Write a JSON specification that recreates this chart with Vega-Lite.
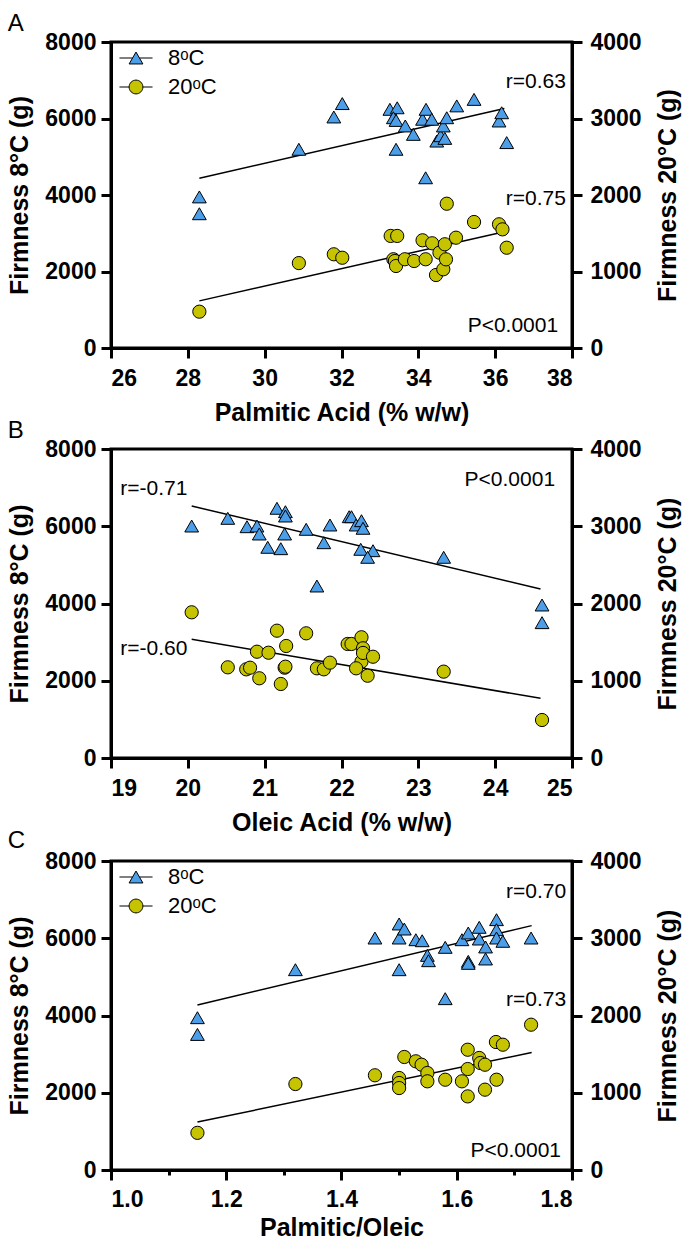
{
  "$schema": "https://vega.github.io/schema/vega-lite/v6.json",
  "background": "white",
  "padding": {"top": 10, "left": 6, "right": 0, "bottom": 0},
  "config": {
    "font": "Liberation Sans",
    "view": {"stroke": "black", "strokeWidth": 3},
    "axis": {
      "domainColor": "black", "domainWidth": 3, "tickColor": "black", "tickWidth": 3,
      "labelFont": "Liberation Sans", "labelFontWeight": "bold", "labelFontSize": 23, "labelColor": "black",
      "titleFont": "Liberation Sans", "titleFontSize": 25, "titleFontWeight": "bold", "titleColor": "black",
      "grid": false
    },
    "title": {"font": "Liberation Sans", "fontSize": 24, "fontWeight": "normal", "color": "black", "anchor": "start", "frame": "bounds"},
    "text": {"font": "Liberation Sans", "fontSize": 21, "color": "black"},
    "legend": {
      "orient": "none", "legendX": 14, "legendY": 5, "title": null, "padding": 0,
      "labelFont": "Liberation Sans", "labelFontSize": 22, "labelColor": "black",
      "symbolStrokeColor": "black", "symbolStrokeWidth": 1, "symbolSize": 190, "symbolOpacity": 1,
      "rowPadding": 7, "labelOffset": 21
    }
  },
  "datasets": {
    "pA": [
      {"x": 28.3, "firmness": 3950, "temp": "8ᵒC"}, {"x": 28.3, "firmness": 3510, "temp": "8ᵒC"},
      {"x": 30.89, "firmness": 5195, "temp": "8ᵒC"}, {"x": 31.8, "firmness": 6040, "temp": "8ᵒC"},
      {"x": 32.02, "firmness": 6390, "temp": "8ᵒC"}, {"x": 33.26, "firmness": 6240, "temp": "8ᵒC"},
      {"x": 33.45, "firmness": 6280, "temp": "8ᵒC"}, {"x": 33.35, "firmness": 6020, "temp": "8ᵒC"},
      {"x": 33.42, "firmness": 5950, "temp": "8ᵒC"}, {"x": 33.42, "firmness": 5195, "temp": "8ᵒC"},
      {"x": 33.66, "firmness": 5805, "temp": "8ᵒC"}, {"x": 33.87, "firmness": 5585, "temp": "8ᵒC"},
      {"x": 34.11, "firmness": 5980, "temp": "8ᵒC"}, {"x": 34.2, "firmness": 6240, "temp": "8ᵒC"},
      {"x": 34.19, "firmness": 4450, "temp": "8ᵒC"}, {"x": 34.35, "firmness": 5980, "temp": "8ᵒC"},
      {"x": 34.48, "firmness": 5410, "temp": "8ᵒC"}, {"x": 34.58, "firmness": 5550, "temp": "8ᵒC"},
      {"x": 34.65, "firmness": 5805, "temp": "8ᵒC"}, {"x": 34.69, "firmness": 5480, "temp": "8ᵒC"},
      {"x": 34.74, "firmness": 6020, "temp": "8ᵒC"}, {"x": 35.0, "firmness": 6330, "temp": "8ᵒC"},
      {"x": 35.45, "firmness": 6500, "temp": "8ᵒC"}, {"x": 36.1, "firmness": 5935, "temp": "8ᵒC"},
      {"x": 36.17, "firmness": 6150, "temp": "8ᵒC"}, {"x": 36.3, "firmness": 5370, "temp": "8ᵒC"},
      {"x": 28.3, "firmness": 475, "temp": "20ᵒC"}, {"x": 30.89, "firmness": 1110, "temp": "20ᵒC"},
      {"x": 31.8, "firmness": 1225, "temp": "20ᵒC"}, {"x": 32.02, "firmness": 1180, "temp": "20ᵒC"},
      {"x": 33.28, "firmness": 1465, "temp": "20ᵒC"}, {"x": 33.45, "firmness": 1465, "temp": "20ᵒC"},
      {"x": 33.35, "firmness": 1160, "temp": "20ᵒC"}, {"x": 33.39, "firmness": 1137, "temp": "20ᵒC"},
      {"x": 33.42, "firmness": 1072, "temp": "20ᵒC"}, {"x": 33.65, "firmness": 1160, "temp": "20ᵒC"},
      {"x": 33.89, "firmness": 1137, "temp": "20ᵒC"}, {"x": 34.11, "firmness": 1408, "temp": "20ᵒC"},
      {"x": 34.19, "firmness": 1160, "temp": "20ᵒC"}, {"x": 34.36, "firmness": 1369, "temp": "20ᵒC"},
      {"x": 34.46, "firmness": 954, "temp": "20ᵒC"}, {"x": 34.55, "firmness": 1246, "temp": "20ᵒC"},
      {"x": 34.65, "firmness": 1029, "temp": "20ᵒC"}, {"x": 34.69, "firmness": 1356, "temp": "20ᵒC"},
      {"x": 34.72, "firmness": 1159, "temp": "20ᵒC"}, {"x": 34.74, "firmness": 1886, "temp": "20ᵒC"},
      {"x": 34.98, "firmness": 1442, "temp": "20ᵒC"}, {"x": 35.45, "firmness": 1647, "temp": "20ᵒC"},
      {"x": 36.1, "firmness": 1617, "temp": "20ᵒC"}, {"x": 36.19, "firmness": 1551, "temp": "20ᵒC"},
      {"x": 36.3, "firmness": 1311, "temp": "20ᵒC"}
    ],
    "fA": [
      {"x": 28.3, "firmness": 4440, "temp": "8ᵒC"}, {"x": 36.24, "firmness": 6260, "temp": "8ᵒC"},
      {"x": 28.3, "firmness": 616, "temp": "20ᵒC"}, {"x": 36.24, "firmness": 1520, "temp": "20ᵒC"}
    ],
    "pB": [
      {"x": 20.05, "firmness": 6006, "temp": "8ᵒC"}, {"x": 20.52, "firmness": 6205, "temp": "8ᵒC"},
      {"x": 20.77, "firmness": 5988, "temp": "8ᵒC"}, {"x": 20.9, "firmness": 6006, "temp": "8ᵒC"},
      {"x": 20.93, "firmness": 5799, "temp": "8ᵒC"}, {"x": 21.04, "firmness": 5455, "temp": "8ᵒC"},
      {"x": 21.16, "firmness": 6465, "temp": "8ᵒC"}, {"x": 21.27, "firmness": 6377, "temp": "8ᵒC"},
      {"x": 21.27, "firmness": 6265, "temp": "8ᵒC"}, {"x": 21.26, "firmness": 5799, "temp": "8ᵒC"},
      {"x": 21.21, "firmness": 5419, "temp": "8ᵒC"}, {"x": 21.54, "firmness": 5921, "temp": "8ᵒC"},
      {"x": 21.85, "firmness": 6032, "temp": "8ᵒC"}, {"x": 21.77, "firmness": 5574, "temp": "8ᵒC"},
      {"x": 21.68, "firmness": 4453, "temp": "8ᵒC"}, {"x": 22.1, "firmness": 6247, "temp": "8ᵒC"},
      {"x": 22.13, "firmness": 6247, "temp": "8ᵒC"}, {"x": 22.19, "firmness": 6032, "temp": "8ᵒC"},
      {"x": 22.26, "firmness": 6144, "temp": "8ᵒC"}, {"x": 22.28, "firmness": 5947, "temp": "8ᵒC"},
      {"x": 22.25, "firmness": 5403, "temp": "8ᵒC"}, {"x": 22.41, "firmness": 5367, "temp": "8ᵒC"},
      {"x": 22.34, "firmness": 5196, "temp": "8ᵒC"}, {"x": 23.33, "firmness": 5196, "temp": "8ᵒC"},
      {"x": 24.61, "firmness": 3961, "temp": "8ᵒC"}, {"x": 24.61, "firmness": 3504, "temp": "8ᵒC"},
      {"x": 20.05, "firmness": 1886, "temp": "20ᵒC"}, {"x": 20.52, "firmness": 1174, "temp": "20ᵒC"},
      {"x": 20.76, "firmness": 1148, "temp": "20ᵒC"}, {"x": 20.81, "firmness": 1169, "temp": "20ᵒC"},
      {"x": 20.9, "firmness": 1376, "temp": "20ᵒC"}, {"x": 20.93, "firmness": 1032, "temp": "20ᵒC"},
      {"x": 21.05, "firmness": 1363, "temp": "20ᵒC"}, {"x": 21.16, "firmness": 1648, "temp": "20ᵒC"},
      {"x": 21.21, "firmness": 958, "temp": "20ᵒC"}, {"x": 21.26, "firmness": 1169, "temp": "20ᵒC"},
      {"x": 21.28, "firmness": 1450, "temp": "20ᵒC"}, {"x": 21.27, "firmness": 1182, "temp": "20ᵒC"},
      {"x": 21.54, "firmness": 1614, "temp": "20ᵒC"}, {"x": 21.68, "firmness": 1161, "temp": "20ᵒC"},
      {"x": 21.77, "firmness": 1148, "temp": "20ᵒC"}, {"x": 21.85, "firmness": 1234, "temp": "20ᵒC"},
      {"x": 22.08, "firmness": 1476, "temp": "20ᵒC"}, {"x": 22.13, "firmness": 1476, "temp": "20ᵒC"},
      {"x": 22.26, "firmness": 1563, "temp": "20ᵒC"}, {"x": 22.28, "firmness": 1420, "temp": "20ᵒC"},
      {"x": 22.26, "firmness": 1247, "temp": "20ᵒC"}, {"x": 22.28, "firmness": 1360, "temp": "20ᵒC"},
      {"x": 22.19, "firmness": 1161, "temp": "20ᵒC"}, {"x": 22.34, "firmness": 1065, "temp": "20ᵒC"},
      {"x": 22.41, "firmness": 1311, "temp": "20ᵒC"}, {"x": 23.33, "firmness": 1118, "temp": "20ᵒC"},
      {"x": 24.61, "firmness": 492, "temp": "20ᵒC"}
    ],
    "fB": [
      {"x": 20.05, "firmness": 6524, "temp": "8ᵒC"}, {"x": 24.59, "firmness": 4375, "temp": "8ᵒC"},
      {"x": 20.05, "firmness": 1537, "temp": "20ᵒC"}, {"x": 24.59, "firmness": 773, "temp": "20ᵒC"}
    ],
    "pC": [
      {"x": 1.15, "firmness": 3943, "temp": "8ᵒC"}, {"x": 1.15, "firmness": 3510, "temp": "8ᵒC"},
      {"x": 1.32, "firmness": 5186, "temp": "8ᵒC"}, {"x": 1.458, "firmness": 6006, "temp": "8ᵒC"},
      {"x": 1.5, "firmness": 6369, "temp": "8ᵒC"}, {"x": 1.5, "firmness": 6006, "temp": "8ᵒC"},
      {"x": 1.5, "firmness": 5186, "temp": "8ᵒC"}, {"x": 1.509, "firmness": 6239, "temp": "8ᵒC"},
      {"x": 1.529, "firmness": 5962, "temp": "8ᵒC"}, {"x": 1.54, "firmness": 5936, "temp": "8ᵒC"},
      {"x": 1.549, "firmness": 5557, "temp": "8ᵒC"}, {"x": 1.551, "firmness": 5419, "temp": "8ᵒC"},
      {"x": 1.58, "firmness": 5765, "temp": "8ᵒC"}, {"x": 1.58, "firmness": 4436, "temp": "8ᵒC"},
      {"x": 1.609, "firmness": 5962, "temp": "8ᵒC"}, {"x": 1.62, "firmness": 6136, "temp": "8ᵒC"},
      {"x": 1.62, "firmness": 5402, "temp": "8ᵒC"}, {"x": 1.62, "firmness": 5350, "temp": "8ᵒC"},
      {"x": 1.639, "firmness": 6283, "temp": "8ᵒC"}, {"x": 1.639, "firmness": 5980, "temp": "8ᵒC"},
      {"x": 1.65, "firmness": 5774, "temp": "8ᵒC"}, {"x": 1.65, "firmness": 5463, "temp": "8ᵒC"},
      {"x": 1.669, "firmness": 6481, "temp": "8ᵒC"}, {"x": 1.669, "firmness": 6222, "temp": "8ᵒC"},
      {"x": 1.669, "firmness": 6006, "temp": "8ᵒC"}, {"x": 1.68, "firmness": 5921, "temp": "8ᵒC"},
      {"x": 1.729, "firmness": 6006, "temp": "8ᵒC"},
      {"x": 1.15, "firmness": 481, "temp": "20ᵒC"}, {"x": 1.32, "firmness": 1113, "temp": "20ᵒC"},
      {"x": 1.458, "firmness": 1226, "temp": "20ᵒC"}, {"x": 1.5, "firmness": 1191, "temp": "20ᵒC"},
      {"x": 1.5, "firmness": 1126, "temp": "20ᵒC"}, {"x": 1.5, "firmness": 1061, "temp": "20ᵒC"},
      {"x": 1.509, "firmness": 1463, "temp": "20ᵒC"}, {"x": 1.529, "firmness": 1407, "temp": "20ᵒC"},
      {"x": 1.539, "firmness": 1363, "temp": "20ᵒC"}, {"x": 1.549, "firmness": 1256, "temp": "20ᵒC"},
      {"x": 1.549, "firmness": 1148, "temp": "20ᵒC"}, {"x": 1.58, "firmness": 1169, "temp": "20ᵒC"},
      {"x": 1.609, "firmness": 1148, "temp": "20ᵒC"}, {"x": 1.619, "firmness": 1557, "temp": "20ᵒC"},
      {"x": 1.619, "firmness": 1307, "temp": "20ᵒC"}, {"x": 1.619, "firmness": 953, "temp": "20ᵒC"},
      {"x": 1.639, "firmness": 1450, "temp": "20ᵒC"}, {"x": 1.641, "firmness": 1385, "temp": "20ᵒC"},
      {"x": 1.649, "firmness": 1363, "temp": "20ᵒC"}, {"x": 1.649, "firmness": 1040, "temp": "20ᵒC"},
      {"x": 1.668, "firmness": 1657, "temp": "20ᵒC"}, {"x": 1.669, "firmness": 1169, "temp": "20ᵒC"},
      {"x": 1.68, "firmness": 1622, "temp": "20ᵒC"}, {"x": 1.729, "firmness": 1881, "temp": "20ᵒC"}
    ],
    "fC": [
      {"x": 1.15, "firmness": 4273, "temp": "8ᵒC"}, {"x": 1.73, "firmness": 6327, "temp": "8ᵒC"},
      {"x": 1.15, "firmness": 620, "temp": "20ᵒC"}, {"x": 1.73, "firmness": 1520, "temp": "20ᵒC"}
    ]
  },
  "vconcat": [
    {
      "width": 461, "height": 306,
      "title": {"text": "A", "offset": -5},
      "layer": [
        {
          "layer": [
            {
              "data": {"name": "fA"}, "transform": [{"filter": "datum.temp == '8ᵒC'"}],
              "mark": {"type": "line", "color": "black", "strokeWidth": 1.5},
              "encoding": {
                "x": {"field": "x", "type": "quantitative", "scale": {"domain": [26, 38], "nice": false, "zero": false},
                  "axis": {"title": "Palmitic Acid (% w/w)", "format": "d", "values": [26,27,28,29,30,31,32,33,34,35,36,37,38],
                    "labelExpr": "datum.value % 2 == 0 ? datum.label : ''",
                    "tickSize": {"condition": {"test": "datum.value % 2 == 0", "value": 10}, "value": 5},
                    "labelPadding": 9, "titlePadding": 10}},
                "y": {"field": "firmness", "type": "quantitative", "scale": {"domain": [0, 8000], "nice": false},
                  "axis": {"title": "Firmness 8°C (g)", "orient": "left", "format": "d",
                    "values": [0,1000,2000,3000,4000,5000,6000,7000,8000],
                    "labelExpr": "datum.value % 2000 == 0 ? datum.label : ''",
                    "tickSize": {"condition": {"test": "datum.value % 2000 == 0", "value": 10}, "value": 5},
                    "labelPadding": 5, "titlePadding": 12}}
              }
            },
            {
              "data": {"name": "pA"}, "transform": [{"filter": "datum.temp == '8ᵒC'"}],
              "mark": {"type": "point", "filled": true, "shape": "triangle-up", "fill": "#4c9ee9", "stroke": "black", "strokeWidth": 1, "opacity": 1, "size": 190},
              "encoding": {"x": {"field": "x", "type": "quantitative"}, "y": {"field": "firmness", "type": "quantitative"}}
            },
            {
              "data": {"name": "pA"}, "transform": [{"filter": "false"}],
              "mark": {"type": "point", "filled": true, "stroke": "black", "strokeWidth": 1, "opacity": 1, "size": 190},
              "encoding": {
                "x": {"field": "x", "type": "quantitative"},
                "y": {"field": "firmness", "type": "quantitative"},
                "shape": {"field": "temp", "type": "nominal", "scale": {"domain": ["8ᵒC", "20ᵒC"], "range": ["M-2.4,0H-0.5M0.5,0H2.4M0,-0.866L1,0.866L-1,0.866Z", "M-2.4,0H-1M1,0H2.4M1,0A1,1,0,1,1,-1,0A1,1,0,1,1,1,0Z"]},
                  "legend": {"encode": {"symbols": {"update": {"stroke": {"value": "black"}, "strokeWidth": {"value": 1}}}}}},
                "fill": {"field": "temp", "type": "nominal", "scale": {"domain": ["8ᵒC", "20ᵒC"], "range": ["#4c9ee9", "#c6c300"]},
                  "legend": {"encode": {"symbols": {"update": {"stroke": {"value": "black"}, "strokeWidth": {"value": 1}}}}}}
              }
            },
            {"data": {"values": [{}]}, "mark": {"type": "text", "align": "right", "baseline": "middle"},
              "encoding": {"x": {"datum": 37.84}, "y": {"datum": 6954}, "text": {"value": "r=0.63"}}},
            {"data": {"values": [{}]}, "mark": {"type": "text", "align": "right", "baseline": "middle"},
              "encoding": {"x": {"datum": 37.84}, "y": {"datum": 3895}, "text": {"value": "r=0.75"}}},
            {"data": {"values": [{}]}, "mark": {"type": "text", "align": "right", "baseline": "middle"},
              "encoding": {"x": {"datum": 37.64}, "y": {"datum": 575}, "text": {"value": "P<0.0001"}}}
          ]
        },
        {
          "layer": [
            {
              "data": {"name": "fA"}, "transform": [{"filter": "datum.temp == '20ᵒC'"}],
              "mark": {"type": "line", "color": "black", "strokeWidth": 1.5},
              "encoding": {
                "x": {"field": "x", "type": "quantitative"},
                "y": {"field": "firmness", "type": "quantitative", "scale": {"domain": [0, 4000], "nice": false},
                  "axis": {"title": "Firmness 20°C (g)", "orient": "right", "format": "d",
                    "values": [0,500,1000,1500,2000,2500,3000,3500,4000],
                    "labelExpr": "datum.value % 1000 == 0 ? datum.label : ''",
                    "tickSize": {"condition": {"test": "datum.value % 1000 == 0", "value": 10}, "value": 5},
                    "labelPadding": 8, "titlePadding": 14, "titleAngle": 270, "titleBaseline": "top"}}
              }
            },
            {
              "data": {"name": "pA"}, "transform": [{"filter": "datum.temp == '20ᵒC'"}],
              "mark": {"type": "point", "filled": true, "shape": "circle", "fill": "#c6c300", "stroke": "black", "strokeWidth": 1, "opacity": 1, "size": 175},
              "encoding": {"x": {"field": "x", "type": "quantitative"}, "y": {"field": "firmness", "type": "quantitative"}}
            }
          ]
        }
      ],
      "resolve": {"scale": {"y": "independent"}}
    },
    {
      "width": 461, "height": 309,
      "title": {"text": "B", "offset": -5},
      "layer": [
        {
          "layer": [
            {
              "data": {"name": "fB"}, "transform": [{"filter": "datum.temp == '8ᵒC'"}],
              "mark": {"type": "line", "color": "black", "strokeWidth": 1.5},
              "encoding": {
                "x": {"field": "x", "type": "quantitative", "scale": {"domain": [19, 25], "nice": false, "zero": false},
                  "axis": {"title": "Oleic Acid (% w/w)", "format": "d", "values": [19,19.5,20,20.5,21,21.5,22,22.5,23,23.5,24,24.5,25],
                    "labelExpr": "datum.value % 1 == 0 ? datum.label : ''",
                    "tickSize": {"condition": {"test": "datum.value % 1 == 0", "value": 10}, "value": 5},
                    "labelPadding": 9, "titlePadding": 10}},
                "y": {"field": "firmness", "type": "quantitative", "scale": {"domain": [0, 8000], "nice": false},
                  "axis": {"title": "Firmness 8°C (g)", "orient": "left", "format": "d",
                    "values": [0,1000,2000,3000,4000,5000,6000,7000,8000],
                    "labelExpr": "datum.value % 2000 == 0 ? datum.label : ''",
                    "tickSize": {"condition": {"test": "datum.value % 2000 == 0", "value": 10}, "value": 5},
                    "labelPadding": 5, "titlePadding": 12}}
              }
            },
            {
              "data": {"name": "pB"}, "transform": [{"filter": "datum.temp == '8ᵒC'"}],
              "mark": {"type": "point", "filled": true, "shape": "triangle-up", "fill": "#4c9ee9", "stroke": "black", "strokeWidth": 1, "opacity": 1, "size": 190},
              "encoding": {"x": {"field": "x", "type": "quantitative"}, "y": {"field": "firmness", "type": "quantitative"}}
            },
            {"data": {"values": [{}]}, "mark": {"type": "text", "align": "right", "baseline": "middle"},
              "encoding": {"x": {"datum": 24.78}, "y": {"datum": 7197}, "text": {"value": "P<0.0001"}}},
            {"data": {"values": [{}]}, "mark": {"type": "text", "align": "left", "baseline": "middle"},
              "encoding": {"x": {"datum": 19.12}, "y": {"datum": 6956}, "text": {"value": "r=-0.71"}}},
            {"data": {"values": [{}]}, "mark": {"type": "text", "align": "left", "baseline": "middle"},
              "encoding": {"x": {"datum": 19.12}, "y": {"datum": 2814}, "text": {"value": "r=-0.60"}}}
          ]
        },
        {
          "layer": [
            {
              "data": {"name": "fB"}, "transform": [{"filter": "datum.temp == '20ᵒC'"}],
              "mark": {"type": "line", "color": "black", "strokeWidth": 1.5},
              "encoding": {
                "x": {"field": "x", "type": "quantitative"},
                "y": {"field": "firmness", "type": "quantitative", "scale": {"domain": [0, 4000], "nice": false},
                  "axis": {"title": "Firmness 20°C (g)", "orient": "right", "format": "d",
                    "values": [0,500,1000,1500,2000,2500,3000,3500,4000],
                    "labelExpr": "datum.value % 1000 == 0 ? datum.label : ''",
                    "tickSize": {"condition": {"test": "datum.value % 1000 == 0", "value": 10}, "value": 5},
                    "labelPadding": 8, "titlePadding": 14, "titleAngle": 270, "titleBaseline": "top"}}
              }
            },
            {
              "data": {"name": "pB"}, "transform": [{"filter": "datum.temp == '20ᵒC'"}],
              "mark": {"type": "point", "filled": true, "shape": "circle", "fill": "#c6c300", "stroke": "black", "strokeWidth": 1, "opacity": 1, "size": 175},
              "encoding": {"x": {"field": "x", "type": "quantitative"}, "y": {"field": "firmness", "type": "quantitative"}}
            }
          ]
        }
      ],
      "resolve": {"scale": {"y": "independent"}}
    },
    {
      "width": 461, "height": 309,
      "title": {"text": "C", "offset": -3},
      "layer": [
        {
          "layer": [
            {
              "data": {"name": "fC"}, "transform": [{"filter": "datum.temp == '8ᵒC'"}],
              "mark": {"type": "line", "color": "black", "strokeWidth": 1.5},
              "encoding": {
                "x": {"field": "x", "type": "quantitative", "scale": {"domain": [1.0, 1.8], "nice": false, "zero": false},
                  "axis": {"title": "Palmitic/Oleic", "format": ".1f",
                    "values": [1.0,1.05,1.1,1.15,1.2,1.25,1.3,1.35,1.4,1.45,1.5,1.55,1.6,1.65,1.7,1.75,1.8],
                    "labelExpr": "round(datum.value * 20) % 4 == 0 ? datum.label : ''",
                    "tickSize": {"condition": {"test": "round(datum.value * 20) % 4 == 0", "value": 10}, "value": 5},
                    "labelPadding": 8, "titlePadding": 4}},
                "y": {"field": "firmness", "type": "quantitative", "scale": {"domain": [0, 8000], "nice": false},
                  "axis": {"title": "Firmness 8°C (g)", "orient": "left", "format": "d",
                    "values": [0,1000,2000,3000,4000,5000,6000,7000,8000],
                    "labelExpr": "datum.value % 2000 == 0 ? datum.label : ''",
                    "tickSize": {"condition": {"test": "datum.value % 2000 == 0", "value": 10}, "value": 5},
                    "labelPadding": 5, "titlePadding": 12}}
              }
            },
            {
              "data": {"name": "pC"}, "transform": [{"filter": "datum.temp == '8ᵒC'"}],
              "mark": {"type": "point", "filled": true, "shape": "triangle-up", "fill": "#4c9ee9", "stroke": "black", "strokeWidth": 1, "opacity": 1, "size": 190},
              "encoding": {"x": {"field": "x", "type": "quantitative"}, "y": {"field": "firmness", "type": "quantitative"}}
            },
            {
              "data": {"name": "pC"}, "transform": [{"filter": "false"}],
              "mark": {"type": "point", "filled": true, "stroke": "black", "strokeWidth": 1, "opacity": 1, "size": 190},
              "encoding": {
                "x": {"field": "x", "type": "quantitative"},
                "y": {"field": "firmness", "type": "quantitative"},
                "shape": {"field": "temp", "type": "nominal", "scale": {"domain": ["8ᵒC", "20ᵒC"], "range": ["M-2.4,0H-0.5M0.5,0H2.4M0,-0.866L1,0.866L-1,0.866Z", "M-2.4,0H-1M1,0H2.4M1,0A1,1,0,1,1,-1,0A1,1,0,1,1,1,0Z"]},
                  "legend": {"encode": {"symbols": {"update": {"stroke": {"value": "black"}, "strokeWidth": {"value": 1}}}}}},
                "fill": {"field": "temp", "type": "nominal", "scale": {"domain": ["8ᵒC", "20ᵒC"], "range": ["#4c9ee9", "#c6c300"]},
                  "legend": {"encode": {"symbols": {"update": {"stroke": {"value": "black"}, "strokeWidth": {"value": 1}}}}}}
              }
            },
            {"data": {"values": [{}]}, "mark": {"type": "text", "align": "right", "baseline": "middle"},
              "encoding": {"x": {"datum": 1.79}, "y": {"datum": 7197}, "text": {"value": "r=0.70"}}},
            {"data": {"values": [{}]}, "mark": {"type": "text", "align": "right", "baseline": "middle"},
              "encoding": {"x": {"datum": 1.79}, "y": {"datum": 4409}, "text": {"value": "r=0.73"}}},
            {"data": {"values": [{}]}, "mark": {"type": "text", "align": "right", "baseline": "middle"},
              "encoding": {"x": {"datum": 1.781}, "y": {"datum": 484}, "text": {"value": "P<0.0001"}}}
          ]
        },
        {
          "layer": [
            {
              "data": {"name": "fC"}, "transform": [{"filter": "datum.temp == '20ᵒC'"}],
              "mark": {"type": "line", "color": "black", "strokeWidth": 1.5},
              "encoding": {
                "x": {"field": "x", "type": "quantitative"},
                "y": {"field": "firmness", "type": "quantitative", "scale": {"domain": [0, 4000], "nice": false},
                  "axis": {"title": "Firmness 20°C (g)", "orient": "right", "format": "d",
                    "values": [0,500,1000,1500,2000,2500,3000,3500,4000],
                    "labelExpr": "datum.value % 1000 == 0 ? datum.label : ''",
                    "tickSize": {"condition": {"test": "datum.value % 1000 == 0", "value": 10}, "value": 5},
                    "labelPadding": 8, "titlePadding": 14, "titleAngle": 270, "titleBaseline": "top"}}
              }
            },
            {
              "data": {"name": "pC"}, "transform": [{"filter": "datum.temp == '20ᵒC'"}],
              "mark": {"type": "point", "filled": true, "shape": "circle", "fill": "#c6c300", "stroke": "black", "strokeWidth": 1, "opacity": 1, "size": 175},
              "encoding": {"x": {"field": "x", "type": "quantitative"}, "y": {"field": "firmness", "type": "quantitative"}}
            }
          ]
        }
      ],
      "resolve": {"scale": {"y": "independent"}}
    }
  ],
  "spacing": -10,
  "resolve": {"scale": {"shape": "independent", "fill": "independent"}, "legend": {"shape": "independent", "fill": "independent"}}
}
